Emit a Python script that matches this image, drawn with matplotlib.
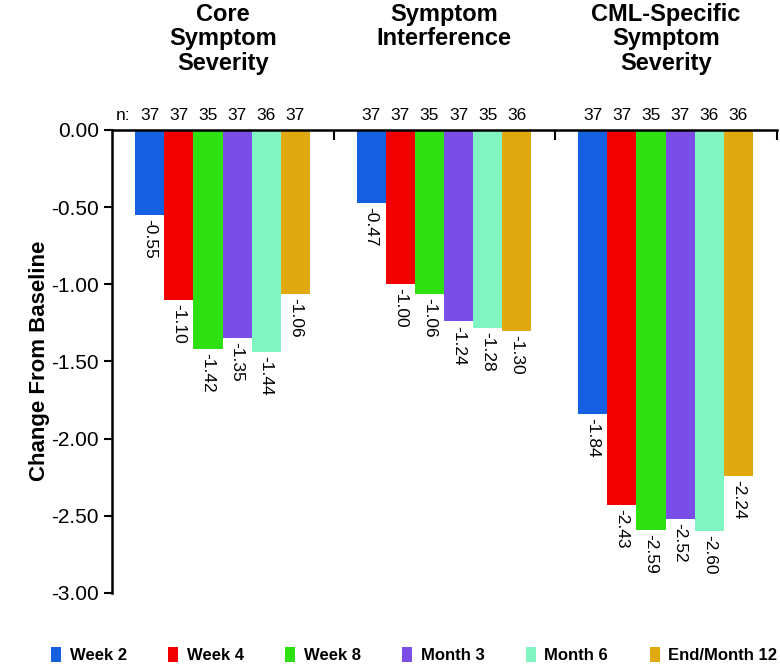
import matplotlib
matplotlib.use("Agg")
import matplotlib.pyplot as plt
import numpy as np

plt.rcParams['font.family'] = ['Liberation Sans', 'DejaVu Sans']

groups = ["Core\nSymptom\nSeverity", "Symptom\nInterference", "CML-Specific\nSymptom\nSeverity"]
visits = ["Week 2", "Week 4", "Week 8", "Month 3", "Month 6", "End/Month 12"]
colors = ["#1560e0", "#f20000", "#2fe010", "#7a4de6", "#80f5c2", "#e0a90f"]

core = [-0.55, -1.10, -1.42, -1.35, -1.44, -1.06]
interference = [-0.47, -1.00, -1.06, -1.24, -1.28, -1.30]
cml = [-1.84, -2.43, -2.59, -2.52, -2.60, -2.24]
values = [core, interference, cml]

n_core = [37, 37, 35, 37, 36, 37]
n_interference = [37, 37, 35, 37, 35, 36]
n_cml = [37, 37, 35, 37, 36, 36]
counts = [n_core, n_interference, n_cml]

fig = plt.figure(figsize=(7.8, 6.7), dpi=100)
ax = fig.add_axes([0.1436, 0.115, 0.852, 0.691])

width = 0.1316
start = 0.104
for g in range(3):
    for k in range(6):
        x = g + start + (k + 0.5) * width
        v = values[g][k]
        ax.bar(x, v, width=width, color=colors[k], edgecolor='none',
               label=visits[k] if g == 0 else None)
        ax.annotate("%.2f" % v, xy=(x, v), xytext=(0, -3), textcoords='offset points',
                    rotation=270, ha='center', va='top', fontsize=12.5)
        ax.annotate(str(counts[g][k]), xy=(x, 0), xytext=(0, 5), textcoords='offset points',
                    ha='center', va='bottom', fontsize=12.5, annotation_clip=False)
    ax.text(g + 0.5, 1.275, groups[g], transform=ax.get_xaxis_transform(),
            ha='center', va='top', fontsize=17, fontweight='bold', linespacing=1.08)

ax.annotate("n:", xy=(0.05, 0), xytext=(0, 5), textcoords='offset points',
            ha='center', va='bottom', fontsize=12.5, annotation_clip=False)

ax.set_xlim(0, 3)
ax.set_ylim(-3, 0)
ax.set_yticks(np.arange(0, -3.01, -0.5))
ax.set_yticklabels(["%.2f" % t for t in np.arange(0, -3.01, -0.5)], fontsize=15)
ax.tick_params(axis='y', direction='out', length=6, width=1.5)

ax.xaxis.tick_top()
ax.set_xticks([1, 2, 3])
ax.set_xticklabels([])
ax.tick_params(axis='x', direction='in', length=7, width=1.5)

ax.spines['right'].set_visible(False)
ax.spines['bottom'].set_visible(False)
ax.spines['left'].set_linewidth(1.8)
ax.spines['top'].set_linewidth(1.8)

fig.text(0.051, 0.461, "Change From Baseline", rotation=90, ha='center', va='center',
         fontsize=16, fontweight='bold')

fig.legend(loc='center', bbox_to_anchor=(0.531, 0.022), ncol=6, frameon=False,
           handlelength=0.6, handleheight=1.0, handletextpad=0.5, columnspacing=2.5,
           prop={'weight': 'bold', 'size': 12})

fig.savefig("out.png", dpi=100)
